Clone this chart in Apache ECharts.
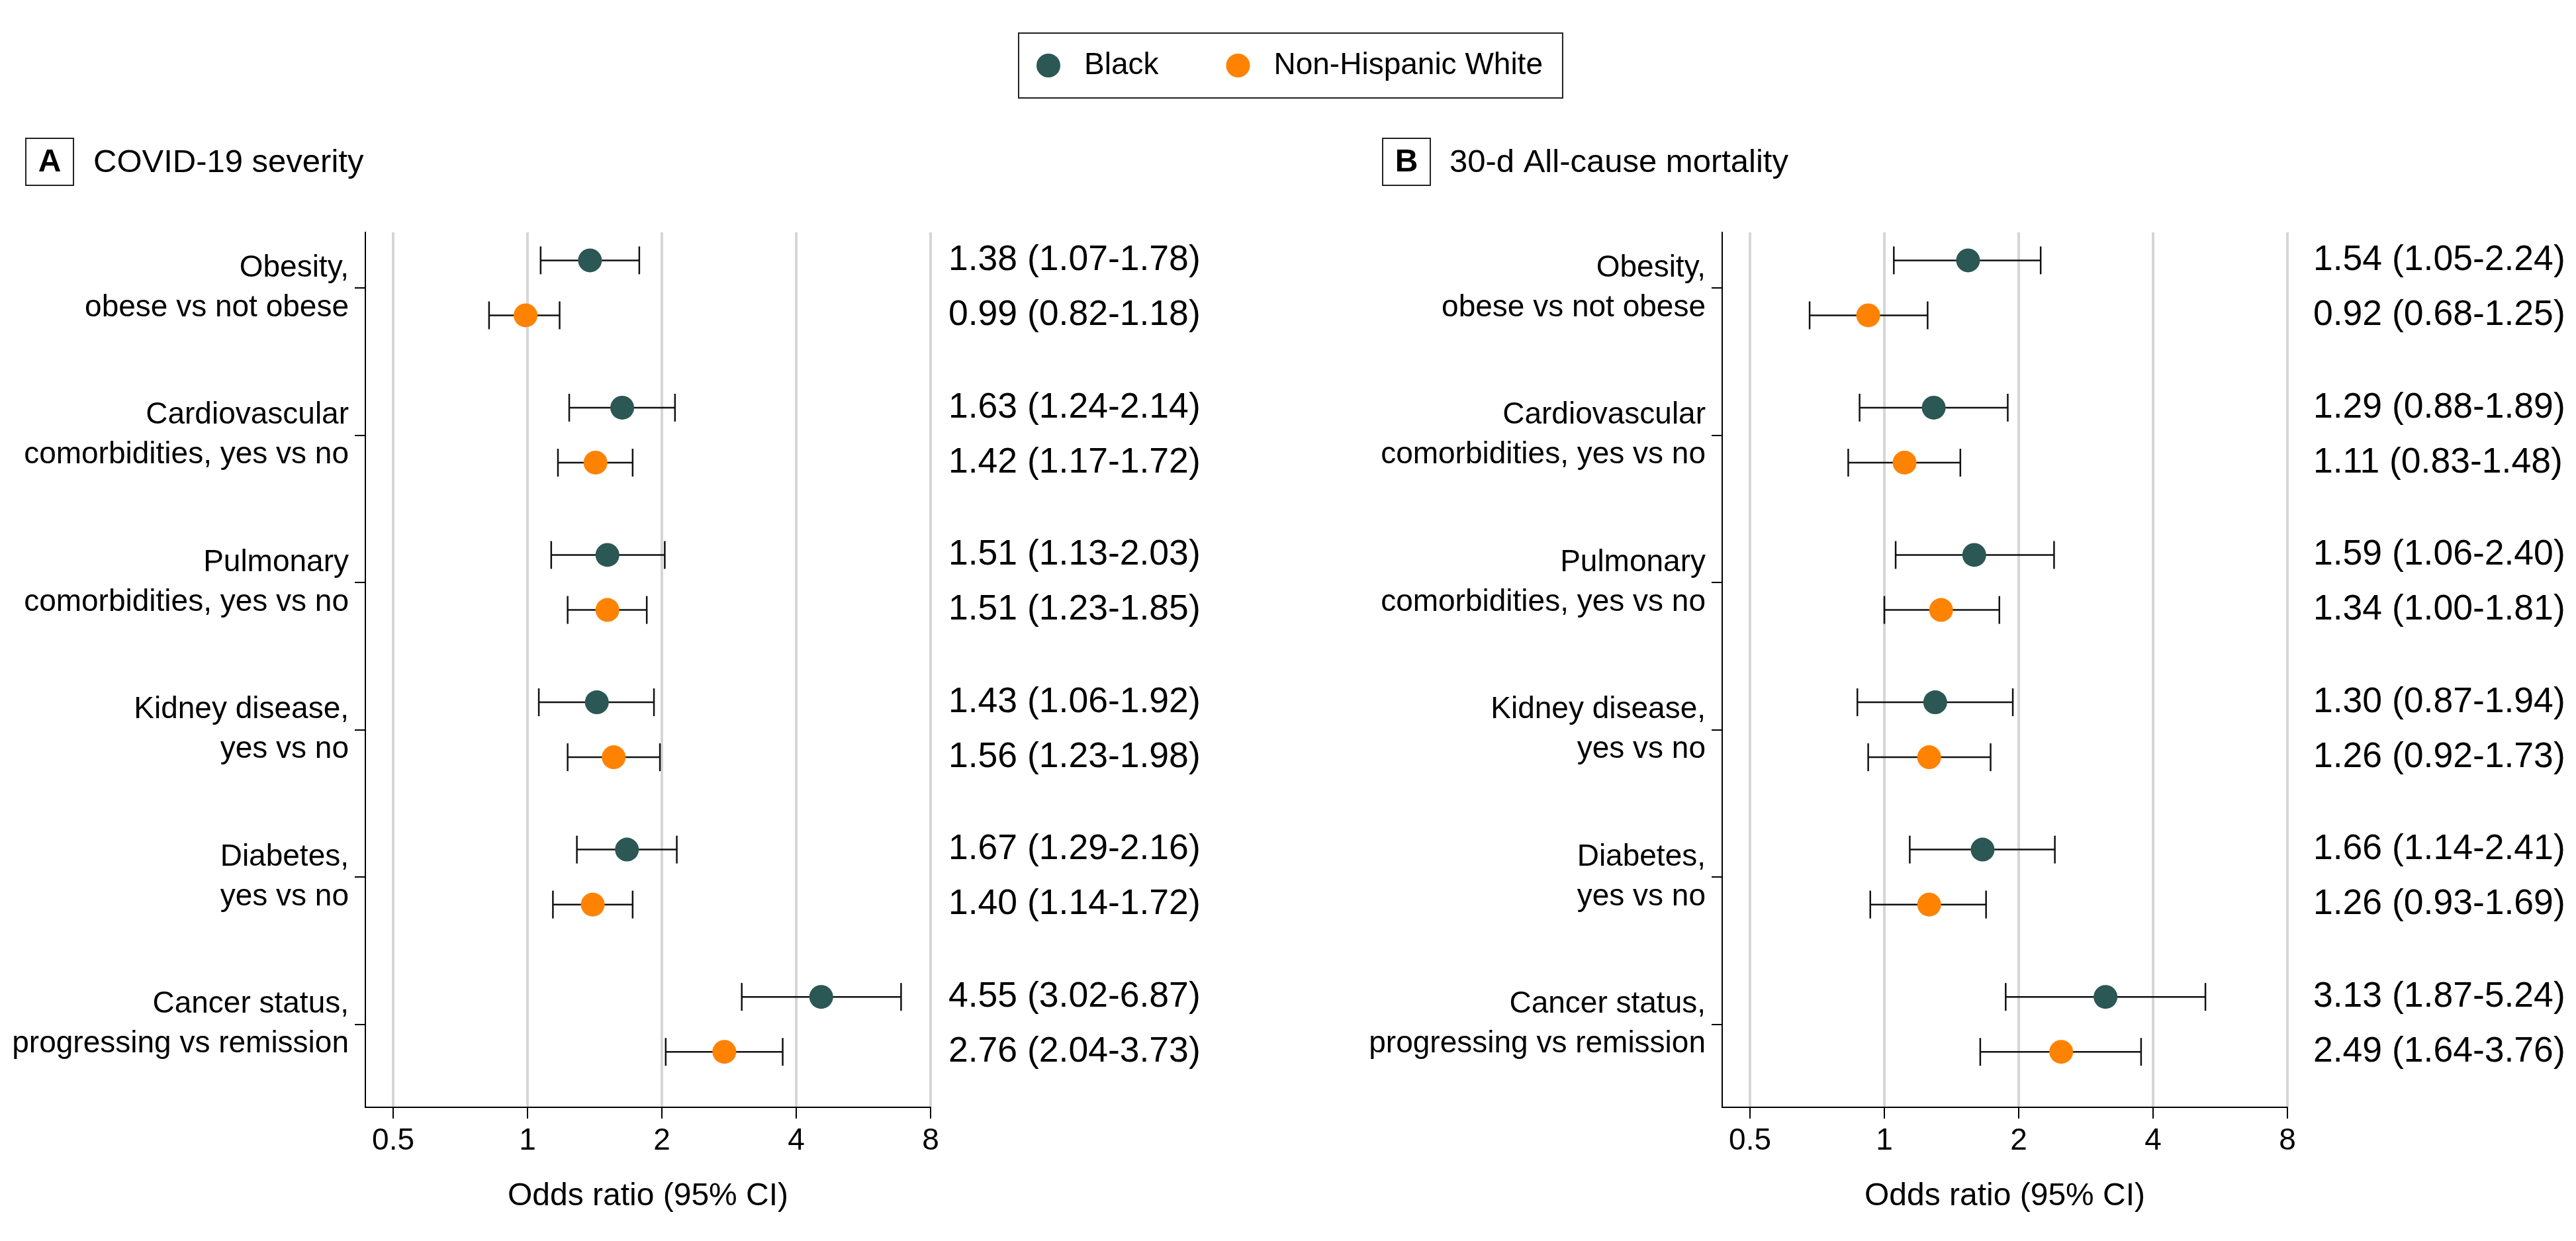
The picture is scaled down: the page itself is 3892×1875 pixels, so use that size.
<!DOCTYPE html>
<html>
<head>
<meta charset="utf-8">
<script src="https://cdn.jsdelivr.net/npm/echarts@6/dist/echarts.min.js"></script>
<style>
html,body{margin:0;padding:0;background:#fff;}
#chart{width:3892px;height:1875px;}
</style>
</head>
<body>
<div id="chart"></div>
<script>
// ---------- data ----------
const categories = [
  'Obesity,\nobese vs not obese',
  'Cardiovascular\ncomorbidities, yes vs no',
  'Pulmonary\ncomorbidities, yes vs no',
  'Kidney disease,\nyes vs no',
  'Diabetes,\nyes vs no',
  'Cancer status,\nprogressing vs remission'
];
const groupNames = ['Black', 'Non-Hispanic White'];
const panelTitles = ['COVID-19 severity', '30-d All-cause mortality'];
const panelLetters = ['A', 'B'];
const xTickValues = [0.5, 1, 2, 4, 8];
const xAxisTitle = 'Odds ratio (95% CI)';

// Panel A: COVID-19 severity
const severityBlackOR = [1.38, 1.63, 1.51, 1.43, 1.67, 4.55];
const severityBlackLo = [1.07, 1.24, 1.13, 1.06, 1.29, 3.02];
const severityBlackHi = [1.78, 2.14, 2.03, 1.92, 2.16, 6.87];
const severityWhiteOR = [0.99, 1.42, 1.51, 1.56, 1.40, 2.76];
const severityWhiteLo = [0.82, 1.17, 1.23, 1.23, 1.14, 2.04];
const severityWhiteHi = [1.18, 1.72, 1.85, 1.98, 1.72, 3.73];

// Panel B: 30-d all-cause mortality
const mortalityBlackOR = [1.54, 1.29, 1.59, 1.30, 1.66, 3.13];
const mortalityBlackLo = [1.05, 0.88, 1.06, 0.87, 1.14, 1.87];
const mortalityBlackHi = [2.24, 1.89, 2.40, 1.94, 2.41, 5.24];
const mortalityWhiteOR = [0.92, 1.11, 1.34, 1.26, 1.26, 2.49];
const mortalityWhiteLo = [0.68, 0.83, 1.00, 0.92, 0.93, 1.64];
const mortalityWhiteHi = [1.25, 1.48, 1.81, 1.73, 1.69, 3.76];

// ---------- styling / layout ----------
const FONT = 'Liberation Sans';
const colors = ['#2B5754', '#FF8200'];
const rowOffset = [-0.1866, 0.1866];
const xMinLog = -1.207, xMaxLog = 3;
const grids = [
  {left: 552, top: 351, width: 854, height: 1322},
  {left: 2602, top: 351, width: 854, height: 1322}
];
const textOffsets = [27, 39];

const panels = [
  [
    {or: severityBlackOR, lo: severityBlackLo, hi: severityBlackHi},
    {or: severityWhiteOR, lo: severityWhiteLo, hi: severityWhiteHi}
  ],
  [
    {or: mortalityBlackOR, lo: mortalityBlackLo, hi: mortalityBlackHi},
    {or: mortalityWhiteOR, lo: mortalityWhiteLo, hi: mortalityWhiteHi}
  ]
];

const xTickLog = xTickValues.map(v => Math.log2(v));
const catIdx = categories.map((c, i) => i);

function fmt(v) { return v.toFixed(2); }

const xAxes = [], yAxes = [], series = [];
panels.forEach((panel, p) => {
  xAxes.push({
    gridIndex: p, type: 'value', min: xMinLog, max: xMaxLog,
    axisLine: {show: true, onZero: false, lineStyle: {color: '#000', width: 2}},
    axisTick: {show: true, length: 17, customValues: xTickLog, lineStyle: {color: '#000', width: 2}},
    axisLabel: {
      customValues: xTickLog, margin: 28, fontSize: 46, fontFamily: FONT, color: '#000',
      formatter: v => { const i = xTickLog.findIndex(t => Math.abs(t - v) < 1e-6); return i >= 0 ? String(xTickValues[i]) : ''; }
    },
    splitLine: {show: true, lineStyle: {color: '#d6d6d6', width: 4}},
    name: xAxisTitle, nameLocation: 'middle', nameGap: 111,
    nameTextStyle: {fontSize: 48, fontFamily: FONT, color: '#000'}
  });
  yAxes.push({
    gridIndex: p, type: 'value', inverse: true, min: -0.377, max: 5.563,
    axisLine: {show: true, onZero: false, lineStyle: {color: '#000', width: 2}},
    axisTick: {show: true, length: 16, customValues: catIdx, lineStyle: {color: '#000', width: 2}},
    axisLabel: {
      customValues: catIdx, margin: 25, fontSize: 46, lineHeight: 60, fontFamily: FONT, color: '#000', align: 'right',
      formatter: v => categories[Math.round(v)] || ''
    },
    splitLine: {show: false}
  });
  panel.forEach((g, k) => {
    const rows = g.or.map((o, i) => [Math.log2(g.lo[i]), Math.log2(g.hi[i]), i + rowOffset[k], o, g.lo[i], g.hi[i]]);
    // error bars
    series.push({
      type: 'custom', name: groupNames[k] + ' CI', xAxisIndex: p, yAxisIndex: p, z: 2, silent: true,
      encode: {x: [0, 1], y: 2},
      data: rows,
      renderItem: (params, api) => {
        const a = api.coord([api.value(0), api.value(2)]);
        const b = api.coord([api.value(1), api.value(2)]);
        const h = 21;
        const st = {stroke: '#111', lineWidth: 2.5};
        return {type: 'group', children: [
          {type: 'line', shape: {x1: a[0], y1: a[1], x2: b[0], y2: b[1]}, style: st},
          {type: 'line', shape: {x1: a[0], y1: a[1] - h, x2: a[0], y2: a[1] + h}, style: st},
          {type: 'line', shape: {x1: b[0], y1: b[1] - h, x2: b[0], y2: b[1] + h}, style: st}
        ]};
      }
    });
    // point estimates
    series.push({
      type: 'scatter', name: groupNames[k], xAxisIndex: p, yAxisIndex: p, z: 3,
      symbol: 'circle', symbolSize: 36,
      itemStyle: {color: colors[k], opacity: 1},
      data: rows.map(r => [Math.log2(r[3]), r[2]])
    });
    // value text column
    series.push({
      type: 'custom', name: groupNames[k] + ' text', xAxisIndex: p, yAxisIndex: p, z: 3, silent: true, clip: false,
      encode: {x: 0, y: 1},
      data: rows.map(r => [xMaxLog, r[2], r[3], r[4], r[5]]),
      renderItem: (params, api) => {
        const c = api.coord([api.value(0), api.value(1)]);
        return {type: 'text', x: c[0] + textOffsets[p], y: c[1],
          style: {text: fmt(api.value(2)) + ' (' + fmt(api.value(3)) + '-' + fmt(api.value(4)) + ')',
            fontSize: 53.5, fontFamily: FONT, fill: '#000', align: 'left', verticalAlign: 'middle'}};
      }
    });
  });
});

const boxX = [39, 2089];
const titleX = [141, 2190];
const graphics = [];
[0, 1].forEach(p => {
  graphics.push({type: 'rect', shape: {x: boxX[p], y: 209, width: 72, height: 71}, style: {fill: '#fff', stroke: '#222', lineWidth: 2}});
  graphics.push({type: 'text', x: boxX[p] + 36, y: 246, style: {text: panelLetters[p], fontSize: 48, fontWeight: 'bold', fontFamily: FONT, fill: '#000', align: 'center', verticalAlign: 'middle'}});
  graphics.push({type: 'text', x: titleX[p], y: 246, style: {text: panelTitles[p], fontSize: 49, fontFamily: FONT, fill: '#000', align: 'left', verticalAlign: 'middle'}});
});

const chart = echarts.init(document.getElementById('chart'), null, {renderer: 'canvas'});
chart.setOption({
  animation: false,
  backgroundColor: '#fff',
  textStyle: {fontFamily: FONT},
  legend: {
    data: groupNames, left: 1539, top: 50, orient: 'horizontal',
    icon: 'circle', itemWidth: 36, itemHeight: 36, itemGap: 102,
    padding: [26, 30, 26, 27], borderColor: '#222', borderWidth: 2,
    textStyle: {fontSize: 46, fontFamily: FONT, color: '#000', padding: [0, 0, 0, 31]},
    selectedMode: false
  },
  grid: grids.map(g => Object.assign({containLabel: false}, g)),
  xAxis: xAxes,
  yAxis: yAxes,
  series: series,
  graphic: graphics
});
</script>
</body>
</html>
